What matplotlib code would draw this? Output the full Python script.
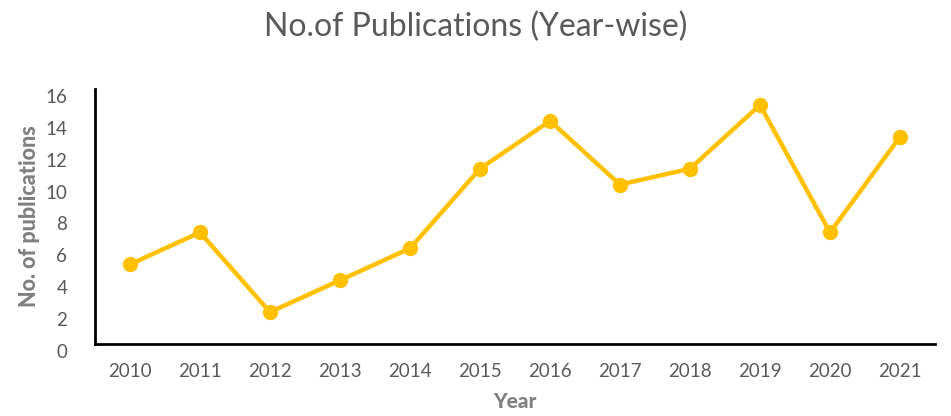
import matplotlib
matplotlib.use("Agg")
import matplotlib.pyplot as plt

years = ["2010", "2011", "2012", "2013", "2014", "2015", "2016", "2017", "2018", "2019", "2020", "2021"]
publications = [5, 7, 2, 4, 6, 11, 14, 10, 11, 15, 7, 13]
yticks = [0, 2, 4, 6, 8, 10, 12, 14, 16]

plt.rcParams['font.family'] = ['Lato', 'DejaVu Sans']

fig = plt.figure(figsize=(9.51, 4.16), dpi=100)
ax = fig.add_axes([95/951, 1 - 344/416, 840/951, 255/416])

x = list(range(len(years)))
ax.plot(x, publications, color="#FFC000", linewidth=3.2, marker="o", markersize=10,
        solid_joinstyle="miter")

ax.set_xlim(-0.5, len(years) - 0.5)
ax.set_ylim(0, 16)
ax.set_xticks(x)
ax.set_xticklabels(years)
ax.set_yticks(yticks)
ax.tick_params(axis="both", length=0, labelsize=13.5, colors="#595959")
ax.tick_params(axis="x", pad=14)
ax.tick_params(axis="y", pad=20)
for lab in ax.get_yticklabels():
    lab.set_verticalalignment("top")

for s in ["top", "right"]:
    ax.spines[s].set_visible(False)
for s in ["left", "bottom"]:
    ax.spines[s].set_color("black")
    ax.spines[s].set_linewidth(2)

ax.set_xlabel("Year", fontsize=15, fontweight="black", color="#7F7F7F", labelpad=8)
ax.set_ylabel("No. of publications", fontsize=15.5, fontweight="black", color="#7F7F7F", labelpad=4)

fig.text(0.5, 1 - 27/416, "No.of Publications (Year-wise)", ha="center", va="center",
         fontsize=23, color="#595959")

fig.savefig("out.png", dpi=100)
